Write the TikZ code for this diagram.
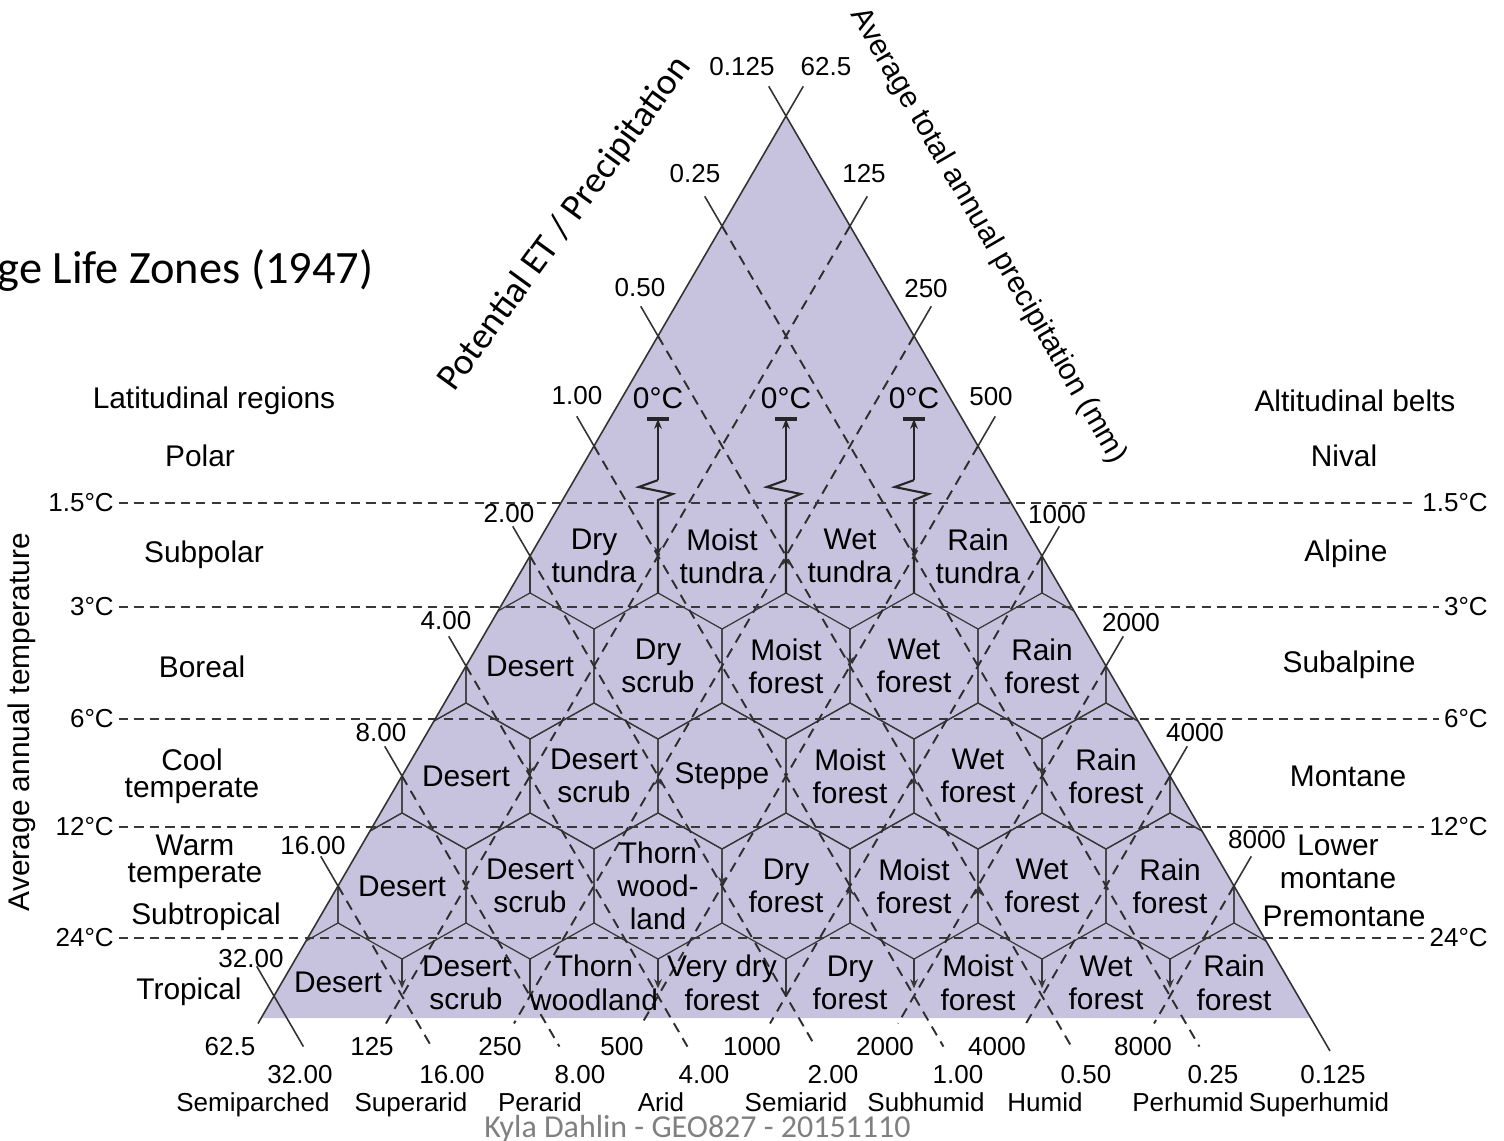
\documentclass[tikz,border=0pt]{standalone}
\usepackage{fontspec}
\setmainfont{Liberation Sans}
\newfontfamily\slidefont{Carlito}
\usepackage{xcolor}
\usetikzlibrary{arrows.meta}
\definecolor{zonefill}{RGB}{199,195,223}
\definecolor{footgray}{RGB}{128,128,128}

\begin{document}
\begin{tikzpicture}[
  font=\fontsize{8.5}{9.4}\selectfont,
  zone/.style={align=center, inner sep=0pt},
  region/.style={align=center, inner sep=0pt, font=\fontsize{8.5}{7.7}\selectfont},
  num/.style={inner sep=0pt, outer sep=1.5pt, font=\fontsize{7.4}{8.5}\selectfont},
  hexline/.style={draw=black!78, line width=0.35pt},
  gridline/.style={black!82, line width=0.55pt, dash pattern=on 2.9pt off 2pt},
  templine/.style={black!78, line width=0.6pt, dash pattern=on 2.6pt off 1.8pt},
  axisline/.style={black!80, line width=0.45pt},
  frost/.style={black!85, line width=0.6pt},
  varrow/.style={hexline, -{Stealth[length=2.6pt,width=2.2pt]}},
]
\useasboundingbox (0,0) rectangle (15.04,-11.41);

% slide title and footer
\node[anchor=base west, inner sep=0pt, font=\slidefont\fontsize{13.2}{15}\selectfont]
  (title) at (-0.03,-2.84) {ge Life Zones (1947)};
\node[anchor=base, inner sep=0pt, text=footgray, font=\slidefont\fontsize{9.1}{11}\selectfont]
  (foot) at (6.975,-11.37) {Kyla Dahlin - GEO827 - 20151110};

% triangle in grid units: x = hex half width, y = one hex row (downwards)
\begin{scope}[shift={(7.86,-5.56)}, x={(0.64cm,0cm)}, y={(0cm,-1.1cm)}]
\coordinate (apex) at (0,-4);
\coordinate (bl) at (-8.2,4.2);
\coordinate (br) at (8.2,4.2);
\fill[zonefill] (apex) -- (bl) -- (br) -- cycle;

% hexagon rows, clipped to the triangle
\begin{scope}
  \clip (apex) -- (bl) -- (br) -- cycle;
  \foreach \r in {1,2,3} {
    \pgfmathtruncatemacro{\n}{5+\r}
    \foreach \k in {0,...,\n} {
      \pgfmathtruncatemacro{\m}{2*\k-\n}
      \draw[hexline] (\m,\r) +(0,-0.664) -- +(1,-0.336) -- +(1,0.336) -- +(0,0.664)
        -- +(-1,0.336) -- +(-1,-0.336) -- cycle;
    }
  }
  \foreach \m in {-4,4}
    \draw[hexline] (\m,-0.336) -- (\m,0.336);
\end{scope}

% bottom row: short sides
\foreach \m/\a in {-6/1,-4/0,-2/1,0/0,2/1,4/1,6/1} {
  \ifnum\a=1 \draw[varrow] (\m,3.664) -- (\m,3.93);
  \else \draw[hexline] (\m,3.664) -- (\m,4.0); \fi
}

% arrows at the middle of hex sides
\foreach \m/\r/\s in {-2/0/1, 0/0/-1, 2/0/1, 1/1/1, -4/2/1, -2/2/-1, 2/2/-1,
                      4/2/1, -1/3/1, 1/3/-1, 3/3/-1}
  \draw[varrow] (\m,\r-0.12*\s) -- (\m,\r);

% 0 C markers with broken lines
\foreach \m [count=\i] in {-2,0,2} {
  \node (zero\i) at (\m,-1.43) {0°C};
  \coordinate (bar\i) at (\m,-1.245);
  \coordinate (brk\i) at (\m,-0.69);
  \draw[frost, line width=0.9pt] (bar\i) +(-0.17,0) -- +(0.17,0);
  \draw[frost, -{Stealth[length=2.8pt,width=2.2pt]}] (brk\i) -- (bar\i);
  \draw[frost] (brk\i) -- ++(-0.30,0.063) -- ++(0.53,0.063) -- ++(-0.23,0.055) -- (\m,0.336);
}

% potential ET lines (parallel to right side)
\foreach \d in {2,0,-2,-4,-6,-8,-10} {
  \draw[axisline] ({(\d-4)/2-0.27},{(-4-\d)/2-0.27}) -- ({(\d-4)/2},{(-4-\d)/2});
  \draw[gridline] ({(\d-4)/2},{(-4-\d)/2}) -- ({\d+4.46},4.46);
}
\draw[axisline] (-0.27,-4.27) -- (8.5,4.5);
\draw[axisline] (-8.27,3.73) -- (-7.54,4.46);

% precipitation lines (parallel to left side)
\foreach \c in {-2,0,...,10} {
  \draw[axisline] ({(\c+4)/2},{(\c-4)/2}) -- ({(\c+4)/2+0.27},{(\c-4)/2-0.27});
  \draw[gridline] ({(\c+4)/2},{(\c-4)/2}) -- ({\c-4.25},4.25);
}
\draw[axisline] (0.27,-4.27) -- (-8.25,4.25);

% life zones
\foreach \m/\name [count=\i] in {-3/Dry\\tundra, -1/Moist\\tundra, 1/Wet\\tundra, 3/Rain\\tundra}
  \node[zone] (sp\i) at (\m,0) {\name};
\foreach \m/\name [count=\i] in {-4/Desert, -2/Dry\\scrub, 0/Moist\\forest, 2/Wet\\forest,
                                 4/Rain\\forest}
  \node[zone] (bo\i) at (\m,1) {\name};
\foreach \m/\name [count=\i] in {-5/Desert, -3/Desert\\scrub, -1/Steppe, 1/Moist\\forest,
                                 3/Wet\\forest, 5/Rain\\forest}
  \node[zone] (ct\i) at (\m,2) {\name};
\foreach \m/\name [count=\i] in {-6/Desert, -4/Desert\\scrub, -2/Thorn\\wood-\\land, 0/Dry\\forest,
                                 2/Moist\\forest, 4/Wet\\forest, 6/Rain\\forest}
  \node[zone] (wt\i) at (\m,3) {\name};
\foreach \m/\name [count=\i] in {-7/Desert, -5/Desert\\scrub, -3/Thorn\\woodland,
                                 -1/Very dry\\forest, 1/Dry\\forest, 3/Moist\\forest,
                                 5/Wet\\forest, 7/Rain\\forest}
  \node[zone] (tr\i) at (\m,3.88) {\name};
\end{scope}

% temperature lines
\foreach \y/\t [count=\i] in {5.03/1.5, 6.07/3, 7.19/6, 8.27/12, 9.38/24} {
  \node[num, anchor=east] (tl\i) at (1.19,-\y) {\t°C};
  \node[num, anchor=east] (tr\i) at (14.93,-\y) {\t°C};
  \draw[templine] (tl\i) -- (tr\i);
}

% latitudinal regions and altitudinal belts
\node[region] (lat) at (2.14,-4.01) {Latitudinal regions};
\node[region] (polar) at (2.00,-4.56) {Polar};
\node[region] (subpolar) at (2.04,-5.55) {Subpolar};
\node[region] (boreal) at (2.02,-6.67) {Boreal};
\node[region] (cooltemp) at (1.92,-7.76) {Cool\\temperate};
\node[region] (warmtemp) at (1.95,-8.62) {Warm\\temperate};
\node[region] (subtrop) at (2.06,-9.17) {Subtropical};
\node[region] (trop) at (1.89,-9.92) {Tropical};
\node[region] (alt) at (13.55,-4.01) {Altitudinal belts};
\node[region] (nival) at (13.44,-4.56) {Nival};
\node[region] (alpine) at (13.46,-5.54) {Alpine};
\node[region] (subalp) at (13.49,-6.65) {Subalpine};
\node[region] (montane) at (13.48,-7.76) {Montane};
\node[region, font=\fontsize{8.5}{9.4}\selectfont] (lowmont) at (13.38,-8.62) {Lower\\montane};
\node[region] (premont) at (13.44,-9.16) {Premontane};

% axis titles
\node[rotate=90] (temptitle) at (0.22,-7.22) {Average annual temperature};
\node[rotate=-59.8] (prectitle) at (9.88,-2.36) {Average total annual precipitation (mm)};
\node[rotate=54, font=\slidefont\fontsize{10.6}{12}\selectfont] (ettitle) at (5.65,-2.24)
  {Potential ET / Precipitation};

% tick values along the sides
\foreach \v/\x/\y [count=\i] in {0.125/7.42/0.67, 0.25/6.95/1.74, 0.50/6.40/2.88, 1.00/5.77/3.96,
    2.00/5.09/5.14, 4.00/4.46/6.21, 8.00/3.81/7.33, 16.00/3.13/8.46, 32.00/2.51/9.59}
  \node[num] (pet\i) at (\x,-\y) {\v};
\foreach \v/\x/\y [count=\i] in {62.5/8.26/0.67, 125/8.64/1.74, 250/9.26/2.89, 500/9.91/3.97,
    1000/10.57/5.15, 2000/11.31/6.23, 4000/11.95/7.33, 8000/12.57/8.40}
  \node[num] (prec\i) at (\x,-\y) {\v};

% tick values along the base
\foreach \v/\x [count=\i] in {62.5/2.30, 125/3.72, 250/5.00, 500/6.22, 1000/7.52, 2000/8.85,
    4000/9.97, 8000/11.43}
  \node[num] (bprec\i) at (\x,-10.47) {\v};
\foreach \v/\x [count=\i] in {32.00/3.00, 16.00/4.52, 8.00/5.80, 4.00/7.04, 2.00/8.33,
    1.00/9.58, 0.50/10.86, 0.25/12.13, 0.125/13.33}
  \node[num] (bpet\i) at (\x,-10.75) {\v};
\foreach \v/\x [count=\i] in {Semiparched/2.53, Superarid/4.11, Perarid/5.40, Arid/6.61,
    Semiarid/7.96, Subhumid/9.26, Humid/10.45, Perhumid/11.88, Superhumid/13.19}
  \node[num, anchor=base] (hum\i) at (\x,-11.11) {\v};
\end{tikzpicture}
\end{document}
